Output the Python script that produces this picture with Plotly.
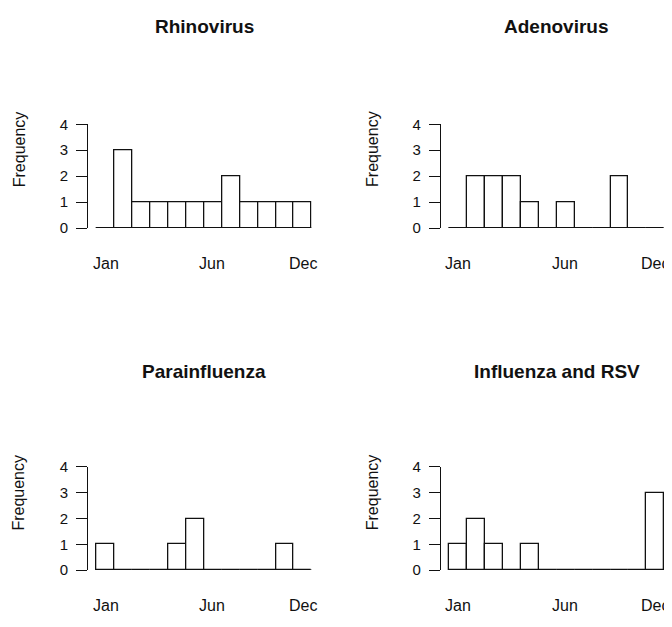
import plotly.graph_objects as go

# ---- data ----
titles = ["Rhinovirus", "Adenovirus", "Parainfluenza", "Influenza and RSV"]
rhinovirus = [0, 3, 1, 1, 1, 1, 1, 2, 1, 1, 1, 1]
adenovirus = [0, 2, 2, 2, 1, 0, 1, 0, 0, 2, 0, 0]
parainfluenza = [1, 0, 0, 0, 1, 2, 0, 0, 0, 0, 1, 0]
influenza_rsv = [1, 2, 1, 0, 1, 0, 0, 0, 0, 0, 0, 3]
month_labels = ["Jan", "Jun", "Dec"]
month_label_pos = [0.5, 6.45, 11.5]   # in bin units (bins span 0..12)
y_ticks = [0, 1, 2, 3, 4]
bin_edges = list(range(13))

series = [rhinovirus, adenovirus, parainfluenza, influenza_rsv]

# the page body has a default 8px margin; compensate so the picture lines up
OX, OY = 8, 8
W, H = 672 - OX, 627 - OY
FONT = "Liberation Sans, Arial, sans-serif"
INK = "#111111"

# pixel geometry per panel (screen px): axis line x, bins start x, bins end x,
# y of 0, y of 4, title y, ylab x, ylab y, month label y
panels = [
    (88.3, 96.7, 311.7, 225.0, 118.3, 18, 19, 144, 261.7),
    (441.0, 449.3, 664.3, 225.0, 118.3, 18, 372.7, 144, 261.7),
    (88.3, 96.7, 311.7, 576.7, 470.7, 372, 19, 497, 613),
    (441.0, 449.3, 664.3, 576.7, 470.7, 372, 372.7, 497, 613),
]


def px(x):
    return (x - OX) / W


def py(y):
    return (H - (y - OY)) / H


fig = go.Figure()
annotations = []
for i, (vals, title, geo) in enumerate(zip(series, titles, panels)):
    ax_x, b0, b1, y0p, y4p, ty, lx, ly, my = geo
    n = i + 1
    xa = "x" if n == 1 else f"x{n}"
    ya = "y" if n == 1 else f"y{n}"
    bw = (b1 - b0) / 12.0
    left = -(b0 - ax_x) / bw
    centers = [(bin_edges[k] + bin_edges[k + 1]) / 2 for k in range(12)]
    # baseline (zero-height bins)
    fig.add_trace(go.Scatter(x=[bin_edges[0], bin_edges[-1]], y=[0, 0], mode="lines",
                             line=dict(color=INK, width=1.3), xaxis=xa, yaxis=ya,
                             hoverinfo="skip", showlegend=False))
    fig.add_trace(go.Bar(x=centers, y=vals, width=1.0, xaxis=xa, yaxis=ya,
                         marker=dict(color="white", line=dict(color=INK, width=1.3)),
                         showlegend=False))
    xkey = "xaxis" if n == 1 else f"xaxis{n}"
    ykey = "yaxis" if n == 1 else f"yaxis{n}"
    fig.layout[xkey] = dict(domain=[px(ax_x), min(px(b1), 1.0)], range=[left, 12], showgrid=False,
                            zeroline=False, showline=False, showticklabels=False,
                            ticks="", anchor=ya)
    fig.layout[ykey] = dict(domain=[py(y0p), py(y4p)], range=[0, 4],
                            tickvals=y_ticks, showgrid=False, zeroline=False,
                            showline=True, linecolor=INK, linewidth=1.3,
                            ticks="outside", ticklen=11, tickwidth=1.3, tickcolor=INK,
                            tickfont=dict(family=FONT, size=15, color=INK),
                            ticklabelstandoff=5, anchor=xa)
    # title
    annotations.append(dict(text=f"<b>{title}</b>", xref="paper", yref="paper",
                            x=px((b0 + b1) / 2), y=py(ty), showarrow=False,
                            xanchor="center", yanchor="middle",
                            font=dict(family=FONT, size=19, color=INK)))
    # y label
    annotations.append(dict(text="Frequency", xref="paper", yref="paper",
                            x=px(lx), y=py(ly), showarrow=False, textangle=-90,
                            xanchor="center", yanchor="middle",
                            font=dict(family=FONT, size=16, color=INK)))
    # month labels
    for lab, pos in zip(month_labels, month_label_pos):
        annotations.append(dict(text=lab, xref=xa, yref="paper", x=pos, y=py(my),
                                showarrow=False, xanchor="center", yanchor="middle",
                                font=dict(family=FONT, size=16, color=INK)))

fig.update_layout(width=W, height=H, margin=dict(l=0, r=0, t=0, b=0),
                  paper_bgcolor="white", plot_bgcolor="white",
                  annotations=annotations, bargap=0)
fig.write_html("out.html")
